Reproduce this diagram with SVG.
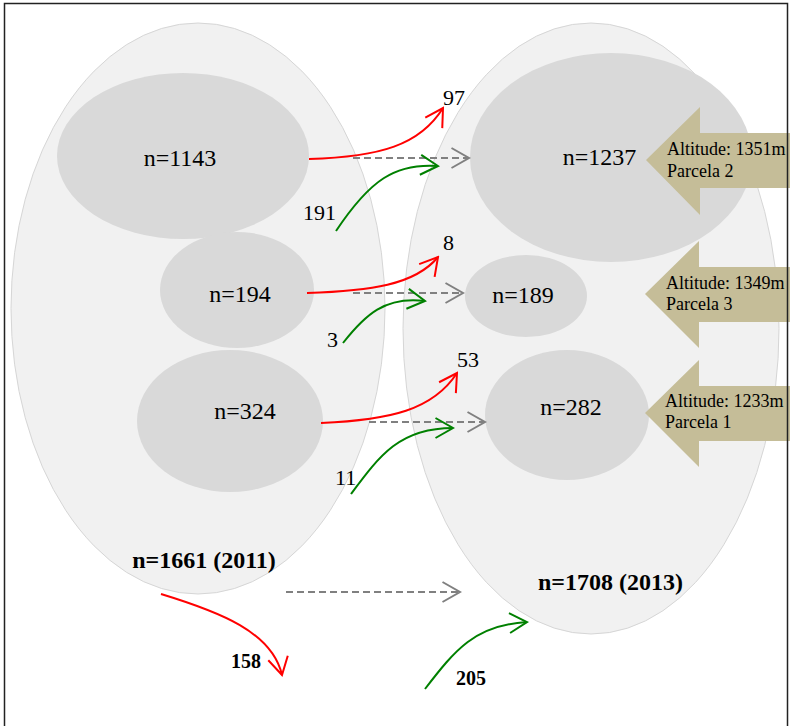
<svg xmlns="http://www.w3.org/2000/svg" width="790" height="726" viewBox="0 0 790 726">
<style>
.big{fill:#f1f1f1;stroke:#d6d6d6;stroke-width:1}
.in{fill:#d9d9d9}
.lbl{font-family:"Liberation Serif",serif;font-size:24px;fill:#000;text-anchor:middle}
.blbl{font-family:"Liberation Serif",serif;font-size:24px;font-weight:bold;fill:#000;text-anchor:middle}
.num{font-family:"Liberation Serif",serif;font-size:22px;fill:#000}
.bnum{font-family:"Liberation Serif",serif;font-size:20px;font-weight:bold;fill:#000}
.alt{font-family:"Liberation Serif",serif;font-size:18px;fill:#000}
.tag{fill:#c5bd98}
.red{fill:none;stroke:#ff0000;stroke-width:2;marker-end:url(#mr)}
.grn{fill:none;stroke:#008000;stroke-width:2;marker-end:url(#mg)}
.gry{fill:none;stroke:#808080;stroke-width:2;stroke-dasharray:7,4;marker-end:url(#mgy)}
</style>
<defs>
<marker id="mr" viewBox="-22 -12 24 24" markerWidth="24" markerHeight="24" refX="0" refY="0" orient="auto" markerUnits="userSpaceOnUse"><path d="M-17.5,-10 L0,0 L-17.5,10" fill="none" stroke="#ff0000" stroke-width="2"/></marker>
<marker id="mg" viewBox="-22 -12 24 24" markerWidth="24" markerHeight="24" refX="0" refY="0" orient="auto" markerUnits="userSpaceOnUse"><path d="M-17.5,-10 L0,0 L-17.5,10" fill="none" stroke="#008000" stroke-width="2"/></marker>
<marker id="mgy" viewBox="-22 -12 24 24" markerWidth="24" markerHeight="24" refX="0" refY="0" orient="auto" markerUnits="userSpaceOnUse"><path d="M-17.5,-10 L0,0 L-17.5,10" fill="none" stroke="#808080" stroke-width="2"/></marker>
</defs>
<rect x="0" y="0" width="790" height="726" fill="#ffffff"/>

<g id="pop2011">
<ellipse class="big" cx="198" cy="308.5" rx="187" ry="285.5"/>
<text class="blbl" x="204" y="568">n=1661 (2011)</text>
</g>
<g id="pop2013">
<ellipse class="big" cx="591" cy="328.5" rx="188" ry="305.5"/>
<text class="blbl" x="610.5" y="590">n=1708 (2013)</text>
</g>

<g id="n1143"><ellipse class="in" cx="183" cy="156" rx="126" ry="83"/><text class="lbl" x="180" y="166">n=1143</text></g>
<g id="n194"><ellipse class="in" cx="237" cy="290" rx="77" ry="58"/><text class="lbl" x="240" y="302">n=194</text></g>
<g id="n324"><ellipse class="in" cx="230" cy="421" rx="93" ry="71"/><text class="lbl" x="245" y="419">n=324</text></g>
<g id="n1237"><ellipse class="in" cx="611" cy="157.5" rx="141" ry="104.5"/><text class="lbl" x="599.5" y="165">n=1237</text></g>
<g id="n189"><ellipse class="in" cx="526" cy="296" rx="61" ry="41"/><text class="lbl" x="523" y="303">n=189</text></g>
<g id="n282"><ellipse class="in" cx="567" cy="415" rx="82" ry="65"/><text class="lbl" x="571" y="415">n=282</text></g>

<g id="parcela2">
<polygon class="tag" points="646,160 700,107 700,133 790,133 790,188 700,188 700,215"/>
<text class="alt" x="667" y="155">Altitude: 1351m</text>
<text class="alt" x="667" y="177">Parcela 2</text>
</g>
<g id="parcela3">
<polygon class="tag" points="645,294 699,241 699,267 790,267 790,322 699,322 699,348"/>
<text class="alt" x="666" y="289">Altitude: 1349m</text>
<text class="alt" x="666" y="310">Parcela 3</text>
</g>
<g id="parcela1">
<polygon class="tag" points="645,413 699,360 699,386 790,386 790,441 699,441 699,467"/>
<text class="alt" x="665" y="407">Altitude: 1233m</text>
<text class="alt" x="665" y="428">Parcela 1</text>
</g>

<g id="connectors">
<path class="red" d="M309,159 C380,157 420,145 443,108"/>
<path class="gry" d="M353,158 L469,158"/>
<path class="grn" d="M336,231 C370,180 395,163 438,166"/>
<path class="red" d="M307,293 C370,291 415,285 438,257"/>
<path class="gry" d="M353,293 L463,293"/>
<path class="grn" d="M343,343 C365,315 385,296 425,301"/>
<path class="red" d="M321,423 C390,420 433,410 457,373"/>
<path class="gry" d="M369,422 L485,422"/>
<path class="grn" d="M351,494 C380,455 400,428 453,428"/>
<path class="red" d="M161,594 C220,612 272,632 282,675"/>
<path class="gry" d="M286,592 L460,592"/>
<path class="grn" d="M425,689 C455,650 475,625 527,622"/>
</g>

<g id="labels">
<text class="num" x="443" y="105">97</text>
<text class="num" x="303" y="220">191</text>
<text class="num" x="443" y="250">8</text>
<text class="num" x="327" y="347">3</text>
<text class="num" x="457" y="367">53</text>
<text class="num" x="335" y="485">11</text>
<text class="bnum" x="231" y="668">158</text>
<text class="bnum" x="456" y="685">205</text>
</g>

<rect x="4.5" y="3.5" width="783" height="740" fill="none" stroke="#222" stroke-width="1.5"/>
</svg>
